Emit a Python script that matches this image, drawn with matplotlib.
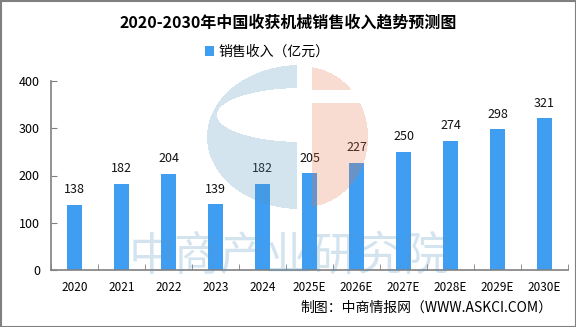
import matplotlib
matplotlib.use("Agg")
import matplotlib.pyplot as plt
from matplotlib.patches import Rectangle
import numpy as np

plt.rcParams['font.family'] = ['Noto Sans CJK SC', 'DejaVu Sans']

years = ['2020', '2021', '2022', '2023', '2024', '2025E', '2026E', '2027E', '2028E', '2029E', '2030E']
revenue = [138, 182, 204, 139, 182, 205, 227, 250, 274, 298, 321]
title = '2020-2030年中国收获机械销售收入趋势预测图'
legend_label = '销售收入（亿元）'
source = '制图：中商情报网（WWW.ASKCI.COM）'
yticks = [0, 100, 200, 300, 400]

W, H = 576, 327
fig = plt.figure(figsize=(W / 100, H / 100), dpi=100)
ax = fig.add_axes([51 / W, 1 - 270 / H, 517 / W, (270 - 81) / H])

x = np.arange(len(years))
bar_color = '#409ef2'
ax.bar(x, revenue, width=0.32, color=bar_color, zorder=2, label=legend_label)
for xi, v in zip(x, revenue):
    ax.text(xi, v + 18, str(v), ha='center', va='bottom', fontsize=9, color='#111111')

ax.set_xlim(-0.5, len(years) - 0.5)
ax.set_ylim(0, 400)
ax.set_yticks(yticks)
ax.set_yticklabels([str(t) for t in yticks], fontsize=9)
ax.set_xticks(x)
ax.set_xticklabels(years, fontsize=8.5)
ax.tick_params(axis='x', length=0, pad=8)
ax.set_xticks(np.arange(-0.5, len(years), 1), minor=True)
ax.tick_params(axis='x', which='minor', direction='in', length=4, color='#808080')
ax.tick_params(axis='y', direction='in', length=4, color='#808080', pad=8)
for s in ['top', 'right']:
    ax.spines[s].set_visible(False)
for s in ['left', 'bottom']:
    ax.spines[s].set_color('#808080')
    ax.spines[s].set_linewidth(1.2)

# watermark overlay (pixel coordinates)
ov = fig.add_axes([0, 0, 1, 1], facecolor='none')
ov.set_xlim(0, W)
ov.set_ylim(H, 0)
ov.axis('off')
blue_c = (0.33, 0.58, 0.76)
pink_c = (0.92, 0.45, 0.28)
a = 0.25
yy, xx = np.mgrid[0:H, 0:W] + 0.5
outer_b = ((xx - 300) / 93) ** 2 + ((yy - 137) / 72) ** 2 <= 1
inner_b = ((xx - 302) / 85) ** 2 + ((yy - 115) / 27) ** 2 <= 1
blue = outer_b & (xx < 297) & ~inner_b
pink = (((xx - 305) / 63) ** 2 + ((yy - 137) / 70) ** 2 <= 1) & (xx >= 312) & ~((yy >= 90) & (yy <= 103))
img = np.zeros((H, W, 4))
img[blue] = [*blue_c, a]
img[pink] = [*pink_c, a]
ov.imshow(img, extent=(0, W, H, 0), interpolation='nearest', aspect='auto', zorder=1)
ov.text(289, 257, '中商产业研究院', ha='center', va='center', fontsize=33,
        color=blue_c, alpha=a, zorder=2)

fig.text(0.5, 1 - 23 / H, title, ha='center', va='center', fontsize=11.5, fontweight='bold')
ax.legend(loc='center', bbox_to_anchor=(267 / W, 1 - 52 / H), bbox_transform=fig.transFigure,
          frameon=False, fontsize=10, handlelength=0.7, handleheight=0.7, handletextpad=0.3)
fig.text(552 / W, 1 - 308 / H, source, ha='right', va='center', fontsize=10)

ov.add_patch(Rectangle((0.5, 0.5), W - 1, H - 1, fill=False, edgecolor='#808080', lw=1.5, zorder=10))

fig.savefig('out.png', dpi=100)
